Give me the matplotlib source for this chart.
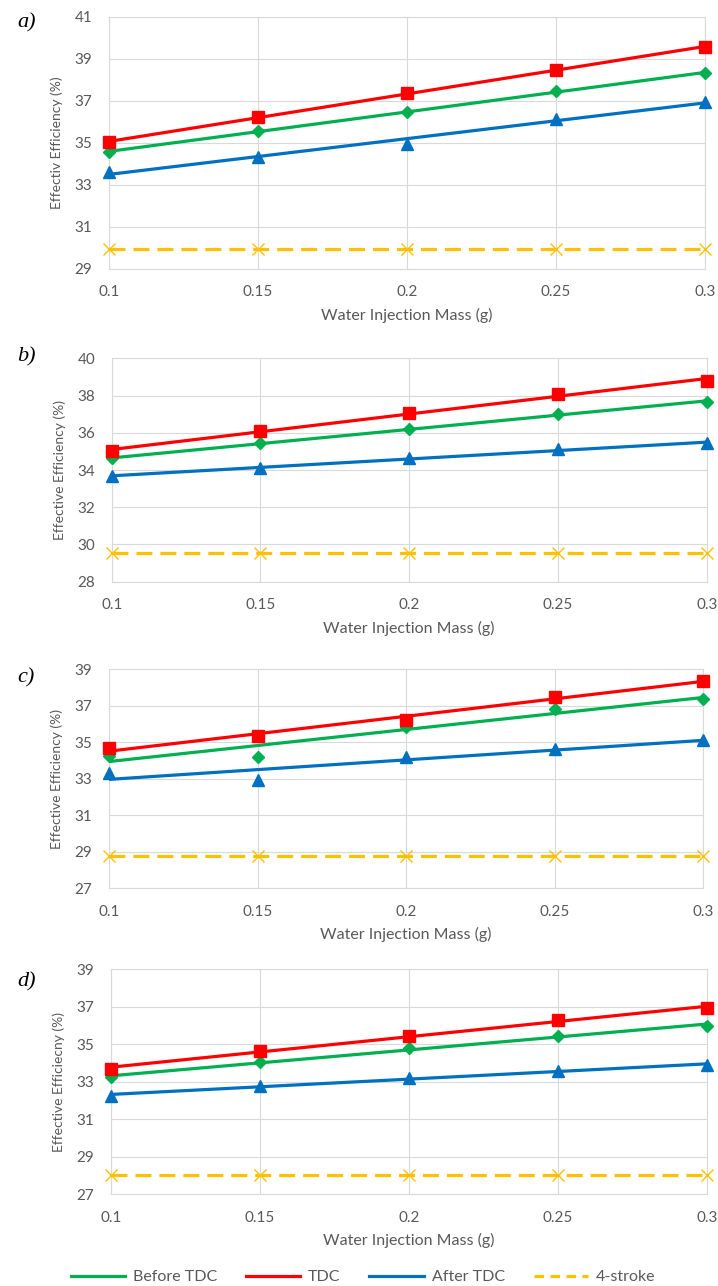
import numpy as np
import matplotlib
matplotlib.use("Agg")
import matplotlib.pyplot as plt
from matplotlib.lines import Line2D

plt.rcParams['font.family'] = ['Lato', 'DejaVu Sans']

mass = [0.1, 0.15, 0.2, 0.25, 0.3]

# panel a
a_before = [34.56, 35.55, 36.47, 37.47, 38.31]
a_tdc = [35.03, 36.23, 37.35, 38.46, 39.58]
a_after = [33.60, 34.32, 34.96, 36.15, 36.95]
a_four = [29.95, 29.95, 29.95, 29.95, 29.95]

# panel b
b_before = [34.62, 35.43, 36.20, 36.99, 37.67]
b_tdc = [35.03, 36.09, 37.04, 38.08, 38.80]
b_after = [33.67, 34.12, 34.62, 35.12, 35.43]
b_four = [29.55, 29.55, 29.55, 29.55, 29.55]

# panel c
c_before = [34.27, 34.21, 35.86, 36.81, 37.36]
c_tdc = [34.67, 35.36, 36.22, 37.50, 38.38]
c_after = [33.30, 32.93, 34.21, 34.62, 35.13]
c_four = [28.77, 28.77, 28.77, 28.77, 28.77]

# panel d
d_before = [33.24, 34.04, 34.79, 35.44, 35.99]
d_tdc = [33.68, 34.66, 35.46, 36.30, 36.92]
d_after = [32.26, 32.78, 33.19, 33.58, 33.90]
d_four = [28.04, 28.04, 28.04, 28.04, 28.04]

panels = [
    ("a)", a_before, a_tdc, a_after, a_four, (29, 41), [29, 31, 33, 35, 37, 39, 41], "Effectiv Efficiency (%)"),
    ("b)", b_before, b_tdc, b_after, b_four, (28, 40), [28, 30, 32, 34, 36, 38, 40], "Effective Efficiency (%)"),
    ("c)", c_before, c_tdc, c_after, c_four, (27, 39), [27, 29, 31, 33, 35, 37, 39], "Effective Efficiency (%)"),
    ("d)", d_before, d_tdc, d_after, d_four, (27, 39), [27, 29, 31, 33, 35, 37, 39], "Effective Efficiecny (%)"),
]

W, H = 718, 1286
# plot area boxes in pixels: left, top, right, bottom
boxes = [(109, 17, 705, 268.5), (111.7, 358.3, 706.7, 581.7),
         (109, 669.3, 703.3, 888.3), (111, 969.3, 706.7, 1194.3)]
label_y = [23, 357, 678, 982]

GREEN, RED, BLUE, YELLOW = '#00B050', '#FF0000', '#0070C0', '#FFC000'
GRID = '#D9D9D9'
TXT = '#595959'

fig = plt.figure(figsize=(W / 100, H / 100), dpi=100)

for i, (lab, bef, tdc, aft, four, ylim, yt, ylab) in enumerate(panels):
    l, t, r, b = boxes[i]
    ax = fig.add_axes([l / W, 1 - b / H, (r - l) / W, (b - t) / H])
    x = np.array(mass)
    xx = np.array([x[0], x[-1]])
    # trend lines (linear fit) plus the measured points
    for ys, col, mk, ms in [(bef, GREEN, 'D', 6.5), (tdc, RED, 's', 8.5), (aft, BLUE, '^', 9)]:
        k, c0 = np.polyfit(x, ys, 1)
        ax.plot(xx, k * xx + c0, color=col, lw=2.3, zorder=3, solid_capstyle='butt')
        ax.plot(x, ys, ls='none', marker=mk, ms=ms, color=col, zorder=4, clip_on=False)
    ax.plot(x, four, color=YELLOW, lw=2.3, dashes=(5, 2.5), marker='x', ms=9, mew=1,
            zorder=3, clip_on=False)
    ax.set_xlim(0.1, 0.3)
    ax.set_ylim(*ylim)
    ax.set_xticks(mass)
    ax.set_xticklabels(['0.1', '0.15', '0.2', '0.25', '0.3'])
    ax.set_yticks(yt)
    ax.tick_params(length=0, pad=12, labelsize=11, labelcolor=TXT)
    ax.grid(True, color=GRID, lw=0.8)
    ax.set_axisbelow(True)
    for s in ax.spines.values():
        s.set_color(GRID)
        s.set_linewidth(0.8)
    ax.set_xlabel("Water Injection Mass (g)", fontsize=11.5, color=TXT, labelpad=6)
    ax.set_ylabel(ylab, fontsize=10, color=TXT, labelpad=8)
    fig.text(17 / W, 1 - label_y[i] / H, lab, fontsize=16, style='italic',
             family='Liberation Serif', va='center', ha='left')

handles = [Line2D([], [], color=GREEN, lw=2.3),
           Line2D([], [], color=RED, lw=2.3),
           Line2D([], [], color=BLUE, lw=2.3),
           Line2D([], [], color=YELLOW, lw=2.3, dashes=(3, 2))]
leg = fig.legend(handles, ['Before TDC', 'TDC', 'After TDC', '4-stroke'], ncol=4,
                 loc='center', bbox_to_anchor=(363 / W, 1 - 1277 / H), frameon=False,
                 fontsize=11.5, handlelength=3.4, handletextpad=0.5, columnspacing=1.8)
for txt in leg.get_texts():
    txt.set_color(TXT)

fig.savefig("out.png", dpi=100)
